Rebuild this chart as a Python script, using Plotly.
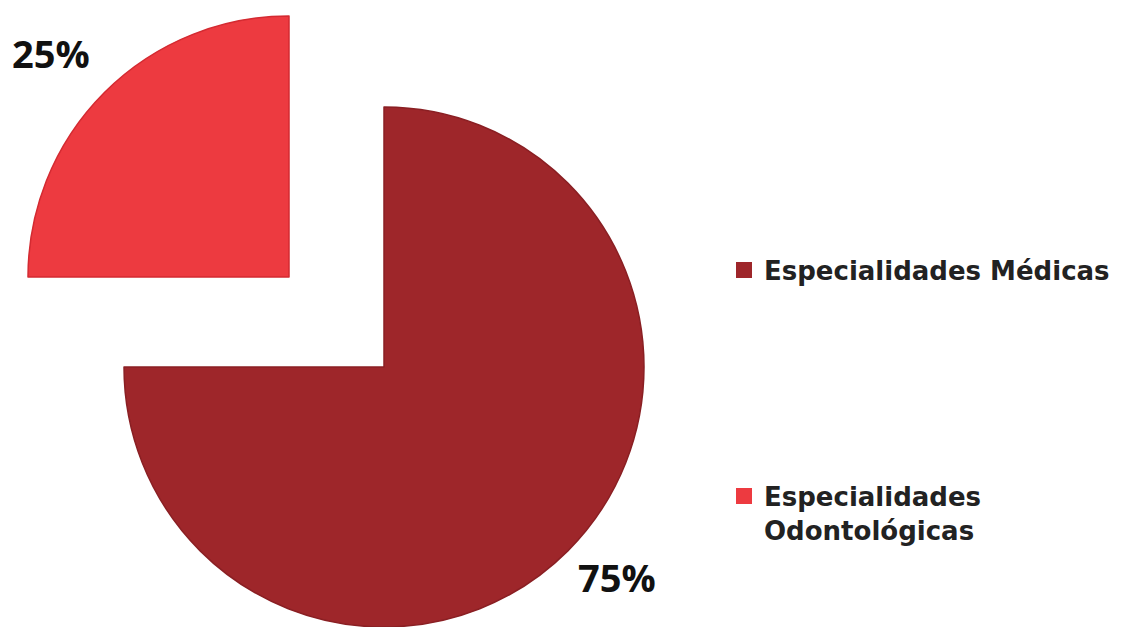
import plotly.graph_objects as go

# ---- data ----
labels = ["Especialidades Médicas", "Especialidades<br>Odontológicas"]
values = [75, 25]
colors = ["#9E262A", "#ED3A40"]
edge_colors = ["#8A1F23", "#D42A31"]

W, H = 1121, 627
TRANSPARENT = "rgba(0,0,0,0)"

# geometry of the two (separated) sectors, in pixels
big_c, big_r = (384, 367), 260
small_c, small_r = (289, 277), 261


def domain(c, r):
    cx, cy = c
    x0, x1 = (cx - r) / W, (cx + r) / W
    y0, y1 = (H - cy - r) / H, (H - cy + r) / H
    return dict(x=[max(0, x0), min(1, x1)], y=[max(0, y0), min(1, y1)])


total = sum(values)
pcts = [f"{round(v / total * 100)}%" for v in values]

fig = go.Figure()

# big sector (Médicas)
fig.add_trace(go.Pie(
    labels=labels, values=values, sort=False, direction="clockwise", rotation=0,
    marker=dict(colors=[colors[0], TRANSPARENT],
                line=dict(color=[edge_colors[0], TRANSPARENT], width=1.5)),
    textinfo="none", hoverinfo="label+percent", showlegend=False,
    domain=domain(big_c, big_r),
))
# detached sector (Odontológicas)
fig.add_trace(go.Pie(
    labels=labels, values=values, sort=False, direction="clockwise", rotation=0,
    marker=dict(colors=[TRANSPARENT, colors[1]],
                line=dict(color=[TRANSPARENT, edge_colors[1]], width=1.5)),
    textinfo="none", hoverinfo="label+percent", showlegend=False,
    domain=domain(small_c, small_r),
))

# legend entries
for i, (lab, col) in enumerate(zip(labels, colors)):
    fig.add_trace(go.Scatter(
        x=[None], y=[None], mode="markers", name=lab,
        marker=dict(symbol="square", size=16, color=col),
        legend="legend" if i == 0 else "legend2", showlegend=True,
    ))

# percentage labels (offsets from each sector's centre, pixels)
label_offsets = [(233, 210), (-238, -224)]
centres = [big_c, small_c]
for pct, (ox, oy), (cx, cy) in zip(pcts, label_offsets, centres):
    fig.add_annotation(
        x=(cx + ox) / W, y=(H - (cy + oy)) / H, xref="paper", yref="paper",
        text=f"<b>{pct}</b>", showarrow=False, xanchor="center", yanchor="middle",
        font=dict(family="Open Sans", size=38, color="#111111"),
    )

legend_font = dict(family="DejaVu Sans", size=26, color="#222222", weight="bold")
fig.update_layout(
    width=W, height=H,
    margin=dict(l=0, r=0, t=0, b=0),
    paper_bgcolor="white", plot_bgcolor="white",
    xaxis=dict(visible=False), yaxis=dict(visible=False),
    legend=dict(x=724 / W, y=1 - 270 / H, xanchor="left", yanchor="middle",
                font=legend_font, bgcolor="rgba(0,0,0,0)", valign="top"),
    legend2=dict(x=724 / W, y=1 - 513 / H, xanchor="left", yanchor="middle",
                 font=legend_font, bgcolor="rgba(0,0,0,0)", valign="top"),
)

fig.write_html("out.html")
